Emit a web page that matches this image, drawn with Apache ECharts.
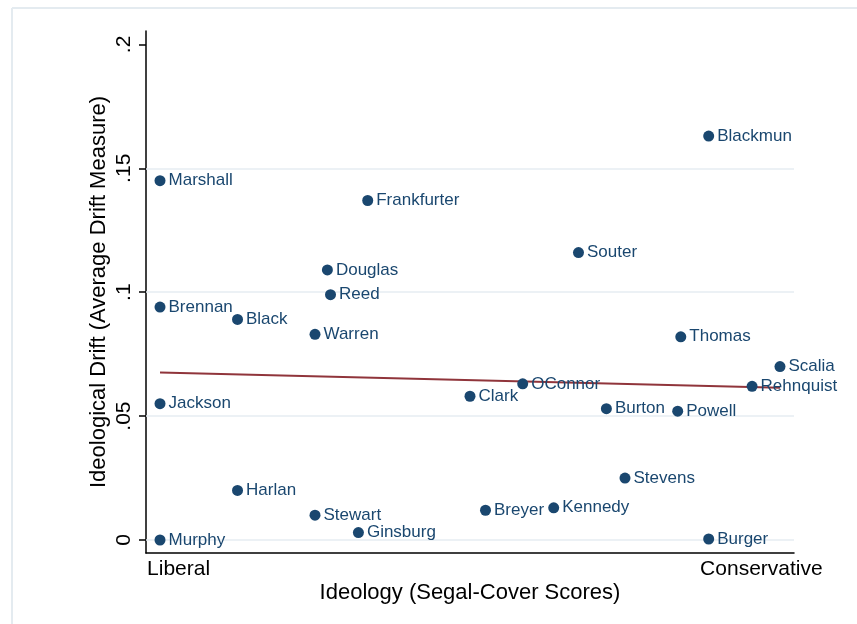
<!DOCTYPE html>
<html>
<head>
<meta charset="utf-8">
<script src="https://cdn.jsdelivr.net/npm/echarts@6/dist/echarts.min.js"></script>
<style>
  html, body { margin: 0; padding: 0; background: #fff; }
  #chart { width: 857px; height: 624px; }
</style>
</head>
<body>
<div id="chart"></div>
<script>
// justices, ideology (0 = liberal, 1 = conservative) and drift
var justices = ['Blackmun', 'Marshall', 'Frankfurter', 'Souter', 'Douglas', 'Reed', 'Brennan', 'Black',
  'Warren', 'Thomas', 'Scalia', 'OConnor', 'Rehnquist', 'Clark', 'Jackson', 'Burton', 'Powell',
  'Stevens', 'Harlan', 'Kennedy', 'Breyer', 'Stewart', 'Ginsburg', 'Murphy', 'Burger']
var ideology = [0.885, 0, 0.335, 0.675, 0.27, 0.275, 0, 0.125,
  0.25, 0.84, 1, 0.585, 0.955, 0.5, 0, 0.72, 0.835,
  0.75, 0.125, 0.635, 0.525, 0.25, 0.32, 0, 0.885]
var drift = [0.163, 0.145, 0.137, 0.116, 0.109, 0.099, 0.094, 0.089,
  0.083, 0.082, 0.070, 0.063, 0.062, 0.058, 0.055, 0.053, 0.052,
  0.025, 0.020, 0.013, 0.012, 0.010, 0.003, 0.000, 0.0004]
var fitX = [0, 1]
var fitY = [0.0676, 0.0614]
var yTicks = [0, 0.05, 0.1, 0.15, 0.2]
var yTickText = ['0', '.05', '.1', '.15', '.2']
var yGrid = [0, 0.05, 0.1, 0.15]
var xTicks = [0.03, 0.97]
var xTickText = ['Liberal', 'Conservative']

var navy = '#1a476f'
var font = 'Liberation Sans, Arial, Helvetica, sans-serif'

var chart = echarts.init(document.getElementById('chart'))
chart.setOption({
  animation: false,
  backgroundColor: '#fff',
  textStyle: { fontFamily: font },
  graphic: [
    { // outer frame, only top and left edges show
      type: 'line',
      shape: { x1: 12, y1: 8, x2: 857, y2: 8 },
      style: { stroke: '#e4ebf0', lineWidth: 2 },
      silent: true
    },
    {
      type: 'line',
      shape: { x1: 12, y1: 8, x2: 12, y2: 624 },
      style: { stroke: '#e4ebf0', lineWidth: 2 },
      silent: true
    }
  ],
  grid: { left: 146, right: 63, top: 31, bottom: 71 },
  xAxis: {
    type: 'value',
    min: -0.0226,
    max: 1.0226,
    name: 'Ideology (Segal-Cover Scores)',
    nameLocation: 'middle',
    nameGap: 29,
    nameMoveOverlap: false,
    nameTextStyle: { color: '#000', fontSize: 22, fontFamily: font },
    axisLine: { show: true, onZero: false, lineStyle: { color: '#000', width: 1.5 } },
    axisTick: { show: false },
    splitLine: { show: false },
    axisLabel: {
      customValues: xTicks,
      margin: 6,
      color: '#000',
      fontSize: 21,
      formatter: function (v) {
        var i = xTicks.indexOf(v)
        return i >= 0 ? xTickText[i] : ''
      }
    }
  },
  yAxis: {
    type: 'value',
    min: -0.00525,
    max: 0.2054,
    name: 'Ideological Drift (Average Drift Measure)',
    nameLocation: 'middle',
    nameGap: 36,
    nameMoveOverlap: false,
    nameTextStyle: { color: '#000', fontSize: 22, fontFamily: font },
    axisLine: { show: true, onZero: false, lineStyle: { color: '#000', width: 1.5 } },
    axisTick: { show: true, customValues: yTicks, length: 7, lineStyle: { color: '#000', width: 1.5 } },
    splitLine: { show: false },
    axisLabel: {
      customValues: yTicks,
      rotate: 90,
      margin: 11,
      color: '#000',
      fontSize: 21,
      formatter: function (v) {
        for (var i = 0; i < yTicks.length; i++) {
          if (Math.abs(yTicks[i] - v) < 1e-9) return yTickText[i]
        }
        return ''
      }
    }
  },
  series: [
    {
      // grid lines
      type: 'line',
      data: [],
      z: 1,
      silent: true,
      markLine: {
        z: 1,
        symbol: 'none',
        silent: true,
        label: { show: false },
        lineStyle: { color: '#e6edf2', width: 1.5, type: 'solid' },
        data: yGrid.map(function (v) { return { yAxis: v } })
      }
    },
    {
      name: 'fit',
      type: 'line',
      z: 3,
      symbol: 'none',
      lineStyle: { color: '#90353b', width: 2 },
      data: fitX.map(function (x, i) { return [x, fitY[i]] })
    },
    {
      name: 'justices',
      type: 'scatter',
      z: 4,
      symbolSize: 11,
      itemStyle: { color: navy, opacity: 1 },
      label: {
        show: true,
        position: 'right',
        distance: 3,
        color: navy,
        fontSize: 17,
        fontFamily: font,
        formatter: function (p) { return justices[p.dataIndex] }
      },
      data: ideology.map(function (x, i) { return [x, drift[i]] })
    }
  ]
})
</script>
</body>
</html>
